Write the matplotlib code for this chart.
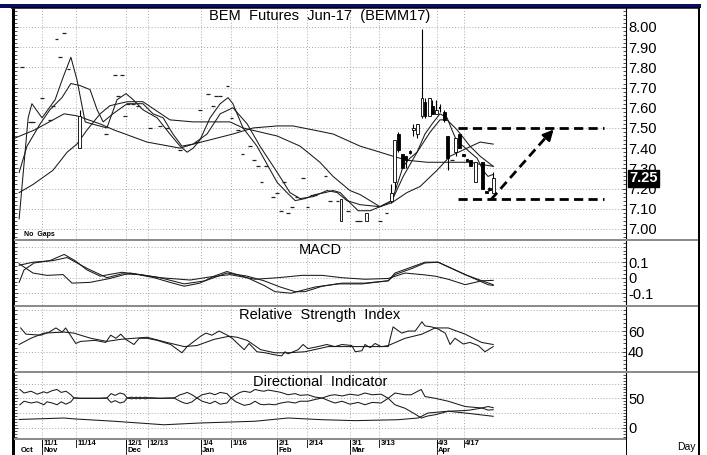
import numpy as np
import matplotlib
matplotlib.use("Agg")
import matplotlib.pyplot as plt
from matplotlib.patches import Rectangle
from matplotlib.lines import Line2D
from matplotlib.ticker import MultipleLocator
import matplotlib.transforms as mtransforms
from matplotlib import font_manager as fm

# ---------------- data (x = trading-day index, 11/1 = 0) ----------------
TICK_T = [0, 9.1, 22.4, 28.3, 42.4, 50.4, 62.7, 70.7, 82.2, 89.9, 105.3, 112.5]
TICK_LABELS = ['11/1', '11/14', '12/1', '12/13', '1/4', '1/16', '2/1', '2/14', '3/1', '3/13', '4/3', '4/17']
MONTH_T = [-6.1, 0, 22.4, 42.4, 62.7, 82.2, 105.3]
MONTH_LABELS = ['Oct', 'Nov', 'Dec', 'Jan', 'Feb', 'Mar', 'Apr']

BAR_T = [-5.3, -3.2, -2.4, 0, 2.1, 2.9, 3.9, 4.8, 5.9, 7.0, 10.0, 17.1, 19.5, 20.3, 21.3, 22.1,
         22.9, 24.3, 25.6, 28.8, 31.5, 33.3, 36.8, 41.3, 42.1, 44.3, 45.6, 46.4, 47.5, 49.5, 50.6,
         52.3, 53.5, 55.5, 56.5, 57.6, 58.6, 59.7, 61.6, 62.7, 63.7, 64.5, 65.6, 66.6, 67.9, 69.6,
         70.7, 72.0, 72.8, 75.5, 76.8, 78.7, 79.7, 81.6, 84.0, 84.8, 86.6, 90.1, 91.9,
         93.1, 94.0, 95.0, 96.1, 97.0, 98.1, 99.0, 100.1, 101.3, 102.1, 103.2, 104.1, 105.1, 106.1,
         107.2, 108.2, 109.3, 110.3, 111.3, 112.3, 113.3, 114.3, 115.5, 117.5, 118.4, 119.3, 120.3]
BAR_O = [7.80, 7.53, 7.53, 7.65, 7.54, 7.61, 7.94, 7.85, 7.97, 7.79, 7.40, 7.47, 7.76, 7.66, 7.76, 7.56,
         7.62, 7.62, 7.61, 7.50, 7.51, 7.50, 7.39, 7.43, 7.59, 7.67, 7.61, 7.66, 7.66, 7.71, 7.55,
         7.49, 7.37, 7.41, 7.34, 7.31, 7.23, 7.31, 7.16, 7.18, 7.09, 7.23, 7.08, 7.11, 7.16, 7.25,
         7.11, 7.17, 7.17, 7.26, 7.14, 7.14, 7.04, 7.09, 7.04, 7.04, 7.04, 7.04, 7.08,
         7.14, 7.23, 7.47, 7.37, 7.36, 7.385, 7.49, 7.47, 7.56, 7.63, 7.56, 7.61, 7.57, 7.60,
         7.58, 7.46, 7.34, 7.38, 7.47, 7.37, 7.345, 7.34, 7.23, 7.33, 7.19, 7.205, 7.18]
BAR_H = [7.80, 7.53, 7.53, 7.65, 7.54, 7.61, 7.94, 7.85, 7.97, 7.79, 7.59, 7.47, 7.76, 7.66, 7.76, 7.56,
         7.62, 7.62, 7.61, 7.50, 7.51, 7.50, 7.39, 7.43, 7.59, 7.67, 7.61, 7.66, 7.66, 7.71, 7.55,
         7.49, 7.37, 7.41, 7.34, 7.31, 7.23, 7.31, 7.16, 7.18, 7.09, 7.23, 7.08, 7.11, 7.16, 7.25,
         7.11, 7.17, 7.17, 7.26, 7.14, 7.14, 7.15, 7.09, 7.04, 7.04, 7.08, 7.04, 7.08,
         7.22, 7.44, 7.48, 7.37, 7.36, 7.39, 7.52, 7.52, 7.99, 7.65, 7.65, 7.64, 7.64, 7.62,
         7.59, 7.46, 7.34, 7.45, 7.47, 7.37, 7.345, 7.34, 7.33, 7.33, 7.19, 7.21, 7.28]
BAR_L = [7.80, 7.53, 7.53, 7.65, 7.54, 7.61, 7.94, 7.85, 7.97, 7.79, 7.40, 7.47, 7.76, 7.66, 7.76, 7.56,
         7.62, 7.62, 7.61, 7.50, 7.51, 7.50, 7.39, 7.43, 7.59, 7.67, 7.61, 7.66, 7.66, 7.71, 7.55,
         7.49, 7.37, 7.41, 7.34, 7.31, 7.23, 7.31, 7.16, 7.18, 7.09, 7.23, 7.08, 7.11, 7.16, 7.25,
         7.11, 7.17, 7.17, 7.26, 7.14, 7.14, 7.04, 7.09, 7.04, 7.04, 7.04, 7.04, 7.08,
         7.13, 7.20, 7.38, 7.30, 7.30, 7.37, 7.46, 7.45, 7.55, 7.55, 7.56, 7.57, 7.57, 7.58,
         7.53, 7.29, 7.34, 7.36, 7.40, 7.36, 7.335, 7.31, 7.23, 7.20, 7.18, 7.19, 7.18]
BAR_C = [7.80, 7.53, 7.53, 7.65, 7.54, 7.61, 7.94, 7.85, 7.97, 7.79, 7.56, 7.47, 7.76, 7.66, 7.76, 7.56,
         7.62, 7.62, 7.61, 7.50, 7.51, 7.50, 7.39, 7.43, 7.59, 7.67, 7.61, 7.66, 7.66, 7.71, 7.55,
         7.49, 7.37, 7.41, 7.34, 7.31, 7.23, 7.31, 7.16, 7.18, 7.09, 7.23, 7.08, 7.11, 7.16, 7.25,
         7.11, 7.17, 7.17, 7.26, 7.14, 7.14, 7.15, 7.09, 7.04, 7.04, 7.08, 7.04, 7.08,
         7.18, 7.44, 7.39, 7.30, 7.34, 7.375, 7.50, 7.52, 7.65, 7.56, 7.65, 7.57, 7.59, 7.60,
         7.54, 7.35, 7.34, 7.45, 7.40, 7.36, 7.335, 7.31, 7.33, 7.20, 7.18, 7.195, 7.25]

MA_SLOW_T = [-7.2, -2, 5.9, 9.3, 15.5, 19.2, 28, 36.8, 40.3, 46.7, 50.9, 56.3, 62.7, 66.9, 72.3,
             77.6, 84.8, 90.1, 93.6, 97.3, 102.7, 114.1, 116.8, 120.3]
MA_SLOW = [7.45, 7.49, 7.57, 7.56, 7.52, 7.49, 7.43, 7.40, 7.42, 7.45, 7.47, 7.50, 7.51, 7.51, 7.49,
           7.47, 7.41, 7.38, 7.36, 7.34, 7.33, 7.33, 7.32, 7.31]
MA_MID_T = [-6.1, -2.4, 2.9, 6.7, 9.3, 12, 15.5, 18.1, 22.7, 26.9, 29.3, 34.1, 40.3, 45.6, 50.1,
            53.6, 58.1, 62.7, 68.8, 74.1, 77.6, 82.1, 84.8, 90.1, 93.3, 97.3, 100.8, 105.3, 108.8,
            113.3, 116.8, 120.3]
MA_MID = [7.18, 7.22, 7.29, 7.38, 7.42, 7.49, 7.57, 7.61, 7.63, 7.63, 7.60, 7.54, 7.53, 7.53, 7.53,
          7.50, 7.48, 7.46, 7.41, 7.33, 7.26, 7.19, 7.17, 7.11, 7.13, 7.18, 7.21, 7.29, 7.36,
          7.40, 7.43, 7.42]
MA_SHORT_T = [-6.1, -4, -0.5, 2.1, 5.3, 7.7, 10.1, 12.8, 14.7, 16.3, 18.9, 22.7, 26.9, 29.6, 32.3,
              34.9, 37.3, 40.3, 44, 47.5, 50.9, 54.7, 58.1, 62.7, 66.1, 68.8, 72.3, 76, 78.7, 81.3,
              84.8, 90.1, 93.3, 96.3, 100, 103.5, 106.1, 108, 110.7, 114.1, 116.8, 120.3]
MA_SHORT = [7.28, 7.41, 7.52, 7.59, 7.65, 7.72, 7.71, 7.69, 7.59, 7.53, 7.57, 7.62, 7.62, 7.57, 7.55,
            7.47, 7.41, 7.42, 7.47, 7.57, 7.60, 7.52, 7.41, 7.28, 7.18, 7.15, 7.16, 7.19, 7.18, 7.14,
            7.12, 7.11, 7.14, 7.26, 7.38, 7.48, 7.54, 7.54, 7.49, 7.41, 7.36, 7.31]
MA_FAST_T = [-6.1, -3.7, -2.7, 0, 3.5, 5.6, 7.7, 9.3, 11.5, 13.3, 17.3, 20, 22.4, 24.3, 26.9, 30.7,
             34.1, 36.8, 38.7, 40.3, 42.1, 44.8, 47.5, 49.6, 50.9, 53.6, 57.3, 60, 62.7, 65.3, 67.5,
             70.1, 72.8, 75.5, 77.6, 79.5, 82.1, 84.3, 87.5, 90.1, 93.3, 94.7, 96.3, 98.1, 100,
             102.1, 104, 106.1, 108, 109.3, 110.7, 112.3, 114.1, 116, 117.6, 118.9, 120.3]
MA_FAST = [7.05, 7.55, 7.62, 7.55, 7.64, 7.75, 7.85, 7.74, 7.53, 7.52, 7.50, 7.64, 7.67, 7.64, 7.59, 7.55,
           7.47, 7.41, 7.38, 7.40, 7.44, 7.55, 7.62, 7.65, 7.62, 7.50, 7.41, 7.32, 7.23, 7.18, 7.14,
           7.15, 7.17, 7.18, 7.19, 7.18, 7.13, 7.09, 7.09, 7.11, 7.14, 7.22, 7.31, 7.35, 7.38,
           7.47, 7.52, 7.57, 7.55, 7.49, 7.43, 7.41, 7.38, 7.35, 7.29, 7.26, 7.27]

LAST_PRICE = 7.25
TARGET_HIGH, SUPPORT_LOW = 7.50, 7.15

MACD_T = [-6.1, -4.8, -2.1, 2.1, 5.9, 8.8, 12, 15.5, 21.3, 24.5, 29.9, 34.1, 37.9, 42.1, 45.9, 49.3,
          54.7, 59.2, 62.1, 66.4, 72.8, 78.9, 85.3, 92.3, 94.1, 98.7, 102.1, 105.6, 110.1, 114.7,
          118.9, 120.3]
MACD = [-0.03, 0.05, 0.095, 0.11, 0.15, 0.11, 0.05, 0.01, 0.035, 0.025, 0.0, -0.03, -0.055, -0.035,
        0.01, 0.04, 0.0, -0.05, -0.09, -0.10, -0.06, -0.04, -0.04, -0.02, 0.03, 0.07, 0.10, 0.10,
        0.05, 0.0, -0.045, -0.05]
SIGNAL_T = [-6.1, -2.4, 2.9, 6.7, 12, 17.3, 21.3, 26.1, 31.5, 37.9, 43.5, 49.3, 54.7, 59.2, 63.5,
            67.5, 70.1, 74.7, 80, 86.1, 92.3, 94.1, 98.7, 102.1, 105.6, 108.3, 112.8, 117.3, 120.3]
SIGNAL = [0.08, 0.10, 0.11, 0.13, 0.06, 0.0, 0.025, 0.02, 0.0, -0.04, -0.02, 0.03, 0.01, -0.02, -0.06,
          -0.09, -0.09, -0.055, -0.035, -0.035, -0.02, 0.02, 0.06, 0.095, 0.10, 0.07, 0.02, -0.02,
          -0.045]
HIST_T = [-6.1, -2.4, 1.3, 5.6, 8, 12.8, 18.1, 23.5, 31.5, 39.5, 44.8, 50.1, 56.8, 62.9, 69.3, 74.7,
          80, 86.1, 92.3, 96.8, 101.3, 104.8, 108.3, 112.8, 117.3, 120.3]
HIST = [0.09, 0.03, 0.015, 0.02, -0.035, -0.03, -0.005, 0.03, 0.0, -0.015, 0.005, 0.02, -0.01, 0.0,
        0.015, 0.015, 0.0, -0.01, -0.005, 0.03, 0.02, 0.01, -0.01, -0.045, -0.02, -0.017]

RSI_T = [-5.7, -4.3, -0.3, 1.9, 3.7, 5.4, 6.3, 9, 10.3, 14.1, 17, 18.3, 19.7, 21, 22.3, 24.5, 25.9,
         28, 30.7, 34.3, 37.3, 38.7, 42.3, 43.7, 45.3, 47.2, 49.4, 50.7, 53.9, 55.2, 57.3, 59.5,
         62.1, 63.9, 64.8, 65.6, 68.3, 69.6, 70.9, 73.6, 75.9, 78.1, 80, 82.6, 83.5, 85.3, 86.1,
         87.5, 88.8, 90.4, 92.3, 93.6, 95.9, 97.6, 99.5, 101.3, 102.1, 103.9, 105.6, 107.5, 108.8,
         110.1, 112.3, 114.1, 116.3, 118.1, 120.3]
RSI = [63, 57, 56, 59, 63, 59, 63, 48, 50, 51, 49, 56, 53, 57, 52, 47, 53, 53, 51, 47, 39, 45, 55, 58,
       56, 60, 56, 53, 42, 48, 40, 39, 37, 36, 40, 38, 42, 47, 43, 45, 47, 45, 47, 46, 40, 41, 47,
       44, 48, 45, 45, 64, 58, 60, 60, 69, 65, 64, 62, 58, 47, 53, 47.5, 49, 46, 40, 45]
RSI_AVG_T = [-6.1, -3, 0.5, 5.9, 8.5, 13, 17.3, 21, 28, 33.3, 37.9, 41.3, 45.9, 49.9, 52, 54.7, 58.3,
             62.1, 65.6, 70.1, 76.3, 82.6, 90.6, 92.3, 96.8, 101.3, 104.8, 108.3, 112.8, 117.2, 120.3]
RSI_AVG = [47, 53, 58, 59, 58, 53, 50, 52, 54, 49, 45, 46, 52, 55, 54, 51, 42, 39, 39, 40, 45, 45,
           45, 46, 53, 57, 63, 63, 57, 49, 47]

DI_T = [-5.9, -4.8, -2.9, -1.3, 0.5, 1.3, 2.7, 4, 5.1, 6.4, 7.7, 8.5, 10.1, 12.8, 15.5, 17.3, 18.4,
        19.5, 20.8, 21.9, 22.7, 24, 25.1, 26.1, 27.5, 28.8, 31.5, 35.2, 36.8, 37.9, 38.7, 40, 41.3,
        42.7, 44.8, 46.1, 47.5, 49.3, 50.4, 51.7, 52.8, 53.9, 55.5, 56.8, 58.1, 59.2, 60.3, 62.1,
        63.7, 65.6, 67.5, 68.8, 70.9, 72.8, 74.7, 76.8, 78.1, 80, 82.1, 84.3, 86.1, 88, 90.4, 92.3]
DI_PLUS = [65, 59, 62, 57, 61, 59, 63, 65, 60, 62, 56, 50.5, 50, 50, 50, 50.5, 58, 55, 59, 57, 50.5,
           52, 49, 52, 49, 51, 50, 50.5, 56, 58, 60, 56, 50.5, 56, 59, 56, 60, 58, 50.5, 56, 60, 62,
           60, 65, 63, 62, 64, 62, 60, 56, 58, 55, 56, 52, 50.5, 55, 56, 54, 57, 55, 59, 56, 57, 50]
DI_MINUS = [39, 45, 42, 44, 39, 44, 42, 39, 44, 40, 44, 50.5, 50, 50, 50, 50.5, 43, 46, 42, 44, 50.5,
            49, 52, 49, 52, 50, 50, 50.5, 45, 42, 41, 44, 50.5, 45, 41, 45, 40, 42, 50.5, 44, 41, 38,
            40, 45, 40, 39, 40, 39, 42, 44, 42, 45, 45, 48, 50.5, 45, 42, 45, 40, 43, 39, 43, 42, 50]
DI_PLUS_TAIL_T = [92.3, 94.1, 96.8, 99.5, 101.1, 102.9, 104.8, 108.3, 112, 114.1, 117.3, 118.9, 120.3]
DI_PLUS_TAIL = [50, 39, 33, 23, 16.5, 20, 22, 28, 29, 30, 33.5, 36, 34]
DI_MINUS_TAIL_T = [92.3, 94.1, 96.8, 98.4, 101.1, 102.1, 104.8, 108.3, 112.8, 117.3, 118.9, 120.3]
DI_MINUS_TAIL = [50, 59, 56, 56, 65, 53, 50, 45, 36, 33.5, 30, 30.6]
ADX_T = [-6.1, 5.9, 8.5, 19.2, 32.5, 42.1, 56.8, 65.6, 74.7, 83.5, 94.9, 100.3, 102.9, 108.3, 112.8, 120.3]
ADX = [14, 16.5, 15, 11, 5, 8, 11, 16.5, 13.6, 12, 13.6, 16.5, 25, 28, 25, 19.4]

MAIN_TICKS = [7.0, 7.1, 7.2, 7.3, 7.4, 7.5, 7.6, 7.7, 7.8, 7.9, 8.0]
MACD_TICKS = [-0.1, 0, 0.1]
MACD_LABELS = ['-0.1', '0', '0.1']
RSI_TICKS = [40, 60]
DI_TICKS = [0, 50]

# ---------------- layout helpers ----------------
W, H = 707, 455
names = {f.name for f in fm.fontManager.ttflist}
FONT = 'Liberation Sans' if 'Liberation Sans' in names else 'DejaVu Sans'
NARROW = 'Liberation Sans Narrow' if 'Liberation Sans Narrow' in names else FONT
plt.rcParams['font.family'] = FONT

fig = plt.figure(figsize=(W / 100, H / 100), dpi=100)
fig.patch.set_facecolor('white')


def rect(x0, y0, x1, y1):
    return [x0 / W, 1 - y1 / H, (x1 - x0) / W, (y1 - y0) / H]


def fy(y):
    return 1 - y / H


XLIM = (-7.47, 155.7)
GRID = dict(color='#a8a8a8', linestyle=(0, (1, 2)), linewidth=0.7)
LINE = dict(color='#1a1a1a', linewidth=0.75)

ax_main = fig.add_axes(rect(14, 8, 626, 239))
ax_macd = fig.add_axes(rect(14, 240, 626, 305))
ax_rsi = fig.add_axes(rect(14, 306, 626, 371))
ax_di = fig.add_axes(rect(14, 372, 626, 438))

panels = [
    (ax_main, (6.950, 8.094), MAIN_TICKS, ['%.2f' % v for v in MAIN_TICKS], [7.0, 7.1, 7.2, 7.3, 7.4, 7.5, 7.6, 7.7, 7.8, 7.9, 8.0], 0.02),
    (ax_macd, (-0.176, 0.243), MACD_TICKS, MACD_LABELS, [-0.1, 0, 0.1, 0.2], 0.025),
    (ax_rsi, (21.4, 84.2), RSI_TICKS, ['40', '60'], [40, 60, 80], 4),
    (ax_di, (-17.5, 94.7), DI_TICKS, ['0', '50'], [0, 25, 50, 75], 5),
]
for ax, ylim, ticks, labels, gridvals, minor in panels:
    ax.set_xlim(*XLIM)
    ax.set_ylim(*ylim)
    ax.set_facecolor('white')
    for s in ('top', 'bottom', 'left'):
        ax.spines[s].set_visible(False)
    ax.spines['right'].set_color('black')
    ax.spines['right'].set_linewidth(0.8)
    ax.set_xticks(TICK_T)
    ax.tick_params(axis='x', length=0, labelbottom=False)
    ax.grid(axis='x', **GRID)
    for g in gridvals:
        ax.axhline(g, zorder=0, **GRID)
    ax.set_yticks(ticks)
    ax.set_yticklabels(labels)
    ax.yaxis.set_minor_locator(MultipleLocator(minor))
    ax.tick_params(axis='y', which='both', left=True, right=True, labelleft=False,
                   labelright=True, direction='in', color='#333333', width=0.6)
    ax.tick_params(axis='y', which='major', length=3, pad=1.5, labelsize=10.5)
    ax.tick_params(axis='y', which='minor', length=2)
    ax.set_axisbelow(True)

# ---------------- main price panel ----------------
for t, o, h, l, c in zip(BAR_T, BAR_O, BAR_H, BAR_L, BAR_C):
    if o == c and h == l:
        ax_main.hlines(c, t - 0.45, t + 0.45, color='#222222', linewidth=0.9, zorder=3)
        continue
    ax_main.vlines(t, l, h, color='black', linewidth=0.8, zorder=3)
    lo, hi = min(o, c), max(o, c)
    if hi - lo < 0.004:
        ax_main.hlines(c, t - 0.38, t + 0.38, color='black', linewidth=1.6, zorder=4)
    else:
        face = 'white' if c > o else 'black'
        ax_main.add_patch(Rectangle((t - 0.38, lo), 0.76, hi - lo, facecolor=face,
                                    edgecolor='black', linewidth=0.6, zorder=4))

ax_main.plot(MA_SLOW_T, MA_SLOW, zorder=2, **LINE)
ax_main.plot(MA_MID_T, MA_MID, zorder=2, **LINE)
ax_main.plot(MA_SHORT_T, MA_SHORT, zorder=2, **LINE)
ax_main.plot(MA_FAST_T, MA_FAST, zorder=2, **LINE)

DASH = dict(color='black', linewidth=2.0, linestyle=(0, (3.3, 1.9)), zorder=5)
ax_main.plot([110.9, 149.9], [TARGET_HIGH, TARGET_HIGH], **DASH)
ax_main.plot([110.9, 149.9], [SUPPORT_LOW, SUPPORT_LOW], **DASH)
ax_main.plot([119.7, 134.9], [SUPPORT_LOW - 0.005, TARGET_HIGH - 0.035], **DASH)
ax_main.annotate('', xy=(136.4, TARGET_HIGH - 0.008), xytext=(134.6, TARGET_HIGH - 0.045),
                 arrowprops=dict(arrowstyle='-|>', color='black', lw=1.6, mutation_scale=16,
                                 shrinkA=0, shrinkB=0), zorder=6)

fig.text(320 / W, fy(16), 'BEM  Futures  Jun-17  (BEMM17)', ha='center', va='center', fontsize=10.5)
fig.text(24 / W, fy(234.5), 'No  Gaps', ha='left', va='center', fontsize=5, fontweight='bold')

tr_last = mtransforms.blended_transform_factory(fig.transFigure, ax_main.transData)
fig.text(629 / W, LAST_PRICE, '%.2f' % LAST_PRICE, transform=tr_last, ha='left', va='center',
         fontsize=10.5, fontweight='bold', color='white',
         bbox=dict(facecolor='black', edgecolor='black', boxstyle='square,pad=0.08'), zorder=10)

# ---------------- MACD ----------------
ax_macd.plot(MACD_T, MACD, **LINE)
ax_macd.plot(SIGNAL_T, SIGNAL, **LINE)
ax_macd.plot(HIST_T, HIST, **LINE)
fig.text(320 / W, fy(250), 'MACD', ha='center', va='center', fontsize=10.5)

# ---------------- RSI ----------------
ax_rsi.plot(RSI_T, RSI, **LINE)
ax_rsi.plot(RSI_AVG_T, RSI_AVG, **LINE)
fig.text(320 / W, fy(315.5), 'Relative  Strength  Index', ha='center', va='center', fontsize=10.5)

# ---------------- Directional Indicator ----------------
ax_di.plot(DI_T + DI_PLUS_TAIL_T[1:], DI_PLUS + DI_PLUS_TAIL[1:], **LINE)
ax_di.plot(DI_T + DI_MINUS_TAIL_T[1:], DI_MINUS + DI_MINUS_TAIL[1:], **LINE)
ax_di.plot(ADX_T, ADX, **LINE)
fig.text(320 / W, fy(381.5), 'Directional  Indicator', ha='center', va='center', fontsize=10.5)

# ---------------- date axis ----------------
trd = mtransforms.blended_transform_factory(ax_di.transData, fig.transFigure)
for t, lab in zip(TICK_T, TICK_LABELS):
    fig.add_artist(Line2D([t, t], [fy(438), fy(447)], transform=trd, color='black', linewidth=0.6))
    fig.text(t + 0.35, fy(443.5), lab, transform=trd, ha='left', va='center', fontsize=5.5,
             fontweight='bold', family=NARROW)
for t, lab in zip(MONTH_T, MONTH_LABELS):
    if t > -6:
        fig.add_artist(Line2D([t, t], [fy(438), fy(454)], transform=trd, color='black', linewidth=0.6))
    fig.text(t + 0.35, fy(450.5), lab, transform=trd, ha='left', va='center', fontsize=5.5,
             fontweight='bold', family=NARROW)
fig.text(677 / W, fy(446.5), 'Day', ha='left', va='center', fontsize=7.5)

# ---------------- frame & separators ----------------
def fline(xs, ys, color, lw_px):
    fig.add_artist(Line2D([x / W for x in xs], [fy(y) for y in ys], transform=fig.transFigure,
                          color=color, linewidth=lw_px * 0.72, solid_capstyle='butt'))

fig.add_artist(Rectangle((0, fy(7.5)), 701 / W, 4 / H, transform=fig.transFigure,
                         facecolor='#0b0b62', edgecolor='none'))
fline([11, 700], [8, 8], 'black', 1.5)
fline([12.5, 12.5], [7.5, 455], 'black', 3)
fline([699, 699], [7.5, 455], 'black', 2)
fline([626, 626], [438, 455], 'black', 1)
for y in (239.5, 305.5, 371.5):
    fline([14, 698], [y, y], '#8c8c8c', 2)
fline([14, 626], [438.5, 438.5], '#8c8c8c', 2)

fig.savefig('out.png', dpi=100)
